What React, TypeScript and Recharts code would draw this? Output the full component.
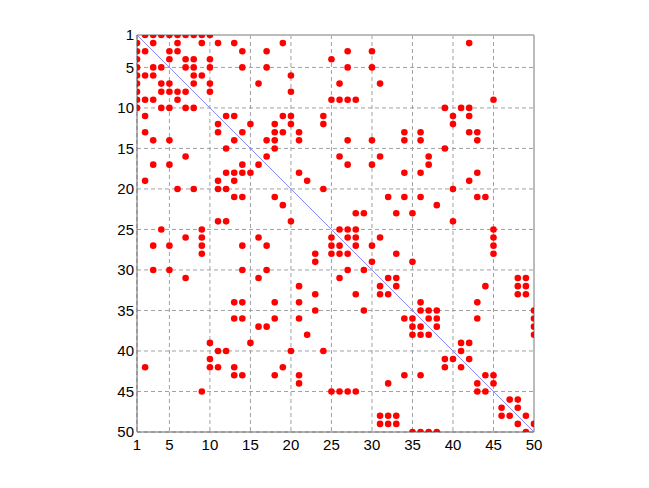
import React from "react";
import {
  ScatterChart,
  Scatter,
  XAxis,
  YAxis,
  CartesianGrid,
  ReferenceLine,
} from "recharts";

// Nonzero column indices for each matrix row (row 1 .. row 50)
const colsByRow: number[][] = [
  [2, 3, 4, 5, 6, 7, 8, 9, 10],
  [1, 3, 6, 9, 11, 13, 19, 42],
  [1, 2, 5, 6, 14, 17, 27, 30],
  [1, 5, 7, 8, 10, 25],
  [1, 3, 4, 7, 8, 10, 14, 17, 27, 30],
  [1, 2, 3, 8, 9, 20],
  [1, 4, 5, 8, 10, 16, 26, 31],
  [1, 4, 5, 6, 7, 10, 20],
  [1, 2, 3, 6, 25, 26, 27, 28, 45],
  [1, 4, 5, 7, 8, 39, 41, 42],
  [2, 12, 13, 19, 20, 24, 40, 42],
  [11, 15, 18, 20, 24, 40],
  [2, 11, 14, 18, 19, 21, 34, 36, 42, 43],
  [3, 5, 13, 17, 18, 21, 27, 30, 34, 36, 43],
  [12, 18, 39],
  [7, 17, 26, 31, 37],
  [3, 5, 14, 16, 27, 30, 37],
  [12, 13, 14, 15, 21, 34, 36, 43],
  [2, 11, 13, 22, 42],
  [6, 8, 11, 12, 24, 40],
  [13, 14, 18, 32, 34, 36, 43, 44],
  [19, 38],
  [28, 29, 33, 35],
  [11, 12, 20, 40],
  [4, 9, 26, 27, 28, 45],
  [7, 9, 16, 25, 27, 28, 31, 45],
  [3, 5, 9, 14, 17, 25, 26, 28, 30, 45],
  [9, 23, 25, 26, 27, 33, 45],
  [23, 30, 35],
  [3, 5, 14, 17, 27, 29],
  [7, 16, 26, 32, 33, 48, 49],
  [21, 31, 33, 44, 48, 49],
  [23, 28, 31, 32, 48, 49],
  [13, 14, 18, 21, 36, 43],
  [23, 29, 36, 37, 38, 50],
  [13, 14, 18, 21, 34, 35, 37, 38, 43, 50],
  [16, 17, 35, 36, 38, 50],
  [22, 35, 36, 37, 50],
  [10, 15, 41, 42],
  [11, 12, 20, 24, 41],
  [10, 39, 40, 42],
  [2, 10, 11, 13, 19, 39, 41],
  [13, 14, 18, 21, 34, 36, 44, 45],
  [21, 32, 43, 45],
  [9, 25, 26, 27, 28, 43, 44],
  [47, 48],
  [46, 48],
  [31, 32, 33, 46, 47, 49],
  [31, 32, 33, 48, 50],
  [35, 36, 37, 38, 49],
];

const xTicks = [1, 5, 10, 15, 20, 25, 30, 35, 40, 45, 50];
const yTicks = [1, 5, 10, 15, 20, 25, 30, 35, 40, 45, 50];

const points = colsByRow.flatMap((cols, i) =>
  cols.map((c) => ({ x: c, y: i + 1 }))
);

const tickStyle = {
  fill: "#000",
  fontSize: 15,
  fontFamily: "'Liberation Sans', Arial, sans-serif",
};

const Dot = (p: any) => (
  <circle cx={p.cx} cy={p.cy} r={3.3} fill="#ff0000" />
);

export default function App() {
  return (
    <div style={{ width: 633, height: 470 }}>
      <ScatterChart
        width={633}
        height={470}
        margin={{ top: 27, right: 107, bottom: 14, left: 0 }}
      >
        <CartesianGrid stroke="#a0a0a0" strokeDasharray="4 3" />
        <XAxis
          type="number"
          dataKey="x"
          domain={[1, 50]}
          ticks={xTicks}
          interval={0}
          tickLine={false}
          tickSize={0}
          tickMargin={7}
          axisLine={{ stroke: "#666" }}
          tick={tickStyle}
          height={32}
          allowDataOverflow
        />
        <YAxis
          type="number"
          dataKey="y"
          domain={[1, 50]}
          reversed
          ticks={yTicks}
          interval={0}
          tickLine={false}
          tickSize={0}
          tickMargin={3}
          axisLine={{ stroke: "#666" }}
          tick={tickStyle}
          width={129}
          allowDataOverflow
        />
        <ReferenceLine y={1} stroke="#bbb" strokeWidth={2} />
        <ReferenceLine x={50} stroke="#bbb" strokeWidth={2} />
        <ReferenceLine
          segment={[
            { x: 1, y: 1 },
            { x: 50, y: 50 },
          ]}
          stroke="#8a8aff"
          strokeWidth={1}
        />
        <Scatter
          data={points}
          shape={Dot}
          isAnimationActive={false}
        />
      </ScatterChart>
    </div>
  );
}
